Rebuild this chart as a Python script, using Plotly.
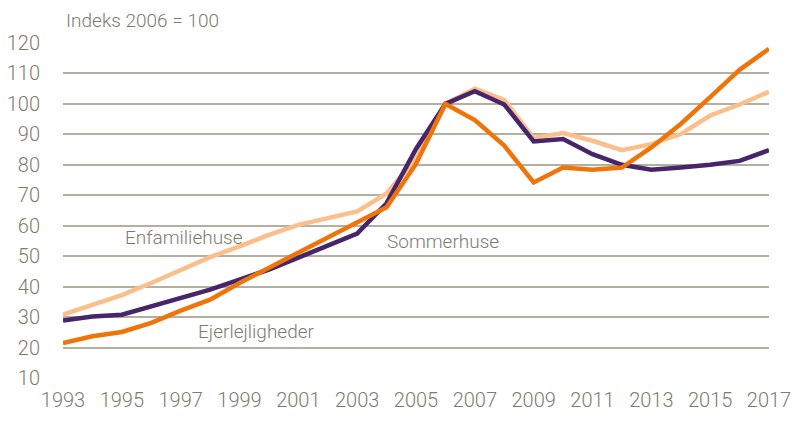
import plotly.graph_objects as go

years = list(range(1993, 2018))
enfamiliehuse = [30.8, 34.0, 37.2, 41.2, 45.6, 49.7, 53.2, 57.0, 60.3, 62.5, 64.7, 70.6, 82.0,
                 100.0, 105.0, 101.3, 88.8, 90.4, 87.9, 84.8, 86.8, 90.1, 96.2, 99.8, 104.0]
sommerhuse = [28.9, 30.2, 30.8, 33.5, 36.5, 39.0, 42.3, 45.6, 49.5, 53.4, 57.4, 67.4, 85.2,
              100.0, 104.2, 99.8, 87.7, 88.5, 83.5, 80.0, 78.4, 79.1, 80.0, 81.3, 84.8]
ejerlejligheder = [21.5, 23.7, 25.1, 28.1, 32.1, 35.7, 41.2, 46.1, 51.0, 56.0, 61.1, 66.1, 80.3,
                   100.0, 94.7, 86.3, 74.2, 79.1, 78.4, 79.1, 85.7, 93.4, 102.2, 111.2, 118.1]

y_ticks = list(range(10, 130, 10))
x_ticks = list(range(1993, 2018, 2))

FONT = "Roboto, Liberation Sans, sans-serif"
TXT = "#7f7b6b"

fig = go.Figure()
fig.add_trace(go.Scatter(x=years, y=enfamiliehuse, mode="lines", name="Enfamiliehuse",
                         line=dict(color="#fbbf8b", width=4.5)))
fig.add_trace(go.Scatter(x=years, y=sommerhuse, mode="lines", name="Sommerhuse",
                         line=dict(color="#46256b", width=4.5)))
fig.add_trace(go.Scatter(x=years, y=ejerlejligheder, mode="lines", name="Ejerlejligheder",
                         line=dict(color="#ef750a", width=4.5)))

tick_font = dict(family=FONT, size=20, color=TXT, weight=300)
ann_font = dict(family=FONT, size=19, color=TXT, weight=300)

fig.update_layout(
    width=792, height=421,
    margin=dict(l=63, r=23, t=43, b=43),
    paper_bgcolor="white", plot_bgcolor="white",
    showlegend=False,
    font=tick_font,
    xaxis=dict(range=[1993, 2017], tickvals=x_ticks, ticktext=[str(v) for v in x_ticks],
               showgrid=False, zeroline=False, showline=False, ticks="", automargin=False,
               ticklabelstandoff=8, ticklabeloverflow="allow", tickfont=tick_font),
    yaxis=dict(range=[10, 120], tickvals=y_ticks, showgrid=True, gridcolor="#b3b0a2",
               gridwidth=2, zeroline=False, showline=False, ticks="", automargin=False,
               ticklabelstandoff=22, ticklabeloverflow="allow", tickfont=tick_font),
    annotations=[
        dict(text="Indeks 2006 = 100", xref="paper", yref="paper", x=0.002, y=1.066,
             xanchor="left", yanchor="middle", showarrow=False, font=ann_font),
        dict(text="Enfamiliehuse", x=1995.03, y=56.1, xanchor="left", yanchor="middle",
             showarrow=False, font=ann_font),
        dict(text="Ejerlejligheder", x=1997.53, y=25.2, xanchor="left", yanchor="middle",
             showarrow=False, font=ann_font),
        dict(text="Sommerhuse", x=2003.95, y=54.8, xanchor="left", yanchor="middle",
             showarrow=False, font=ann_font),
    ],
)

fig.write_html("out.html", config={"displayModeBar": False},
               post_script="document.body.style.margin='0';")
